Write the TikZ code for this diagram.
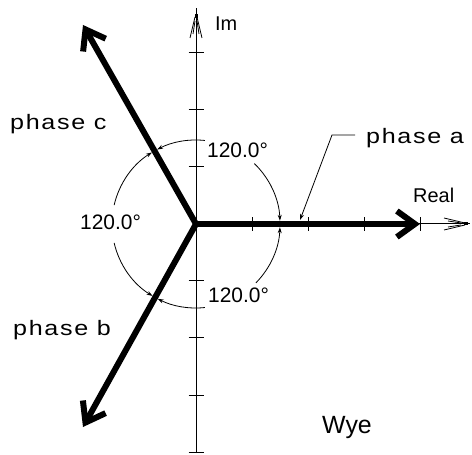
\documentclass[tikz,border=0pt]{standalone}
\usepackage{fontspec}
\setmainfont{Liberation Sans}
\newfontfamily\cadfont[FakeStretch=1.2,LetterSpace=8]{Liberation Sans}
\usetikzlibrary{arrows.meta}
\begin{document}
\begin{tikzpicture}[x=1bp,y=1bp,
  axisline/.style={line width=1bp},
  tickmark/.style={line width=1bp},
  headline/.style={line width=0.8bp},
  phasevec/.style={line width=6bp, -{Straight Barb[length=18bp,width=26bp]}},
  anglearc/.style={line width=0.8bp, -{Stealth[length=6bp,width=4bp]}},
  num/.style={font=\fontsize{21}{21}\selectfont, inner sep=0pt, anchor=base west},
  axlbl/.style={font=\fontsize{20}{20}\selectfont, inner sep=0pt, anchor=base west},
  phlbl/.style={font=\cadfont\fontsize{21}{21}\selectfont, inner sep=0pt, anchor=base west},
]
\useasboundingbox (-196,-231) rectangle (276,224);

\coordinate (O) at (0,0);
\coordinate (atip) at (224,0);
\coordinate (btip) at (-113,-203);
\coordinate (ctip) at (-113,199);
\coordinate (xend) at (274,0);
\coordinate (xtip) at (272,0);
\coordinate (yend) at (0,216);
\coordinate (ytip) at (0,210);
\coordinate (ybot) at (0,-229);

% axes
\draw[axisline] (ybot) -- (yend);
\draw[axisline] (O) -- (xend);
\foreach \y in {-228,-171,-114,-57,57,114,171}
  \draw[tickmark] (-7.5,\y) -- (7.5,\y);
\foreach \x in {56,112,168,224}
  \draw[tickmark] (\x,-7) -- (\x,7);

% open axis arrowheads
\draw[headline] ([shift={(-1,-3)}]ytip) -- ([shift={(-6,-24)}]ytip);
\draw[headline] ([shift={(1,-3)}]ytip) -- ([shift={(6,-24)}]ytip);
\draw[headline] ([shift={(-1,-7)}]ytip) -- ([shift={(-3,-20)}]ytip);
\draw[headline] ([shift={(1,-7)}]ytip) -- ([shift={(3,-20)}]ytip);
\fill ([shift={(-1.5,-4)}]ytip) rectangle ([shift={(1.5,0)}]ytip);
\draw[headline] ([shift={(-3,1)}]xtip) -- ([shift={(-24,6)}]xtip);
\draw[headline] ([shift={(-3,-1)}]xtip) -- ([shift={(-24,-6)}]xtip);
\draw[headline] ([shift={(-7,1)}]xtip) -- ([shift={(-20,3)}]xtip);
\draw[headline] ([shift={(-7,-1)}]xtip) -- ([shift={(-20,-3)}]xtip);
\fill ([shift={(-4,-1.5)}]xtip) rectangle ([shift={(0,1.5)}]xtip);

% phase vectors
\draw[phasevec] (O) -- (atip);
\draw[phasevec] (O) -- (btip);
\draw[phasevec] (O) -- (ctip);

% angle arcs
\draw[anglearc] (84:84) arc[start angle=84, end angle=117.6, radius=84];
\draw[anglearc] (46:84) arc[start angle=46, end angle=2.2, radius=84];
\draw[anglearc] (-44.5:84) arc[start angle=-44.5, end angle=-2.2, radius=84];
\draw[anglearc] (-84:84) arc[start angle=-84, end angle=-117.1, radius=84];
\draw[anglearc] (167:84) arc[start angle=167, end angle=121.6, radius=84];
\draw[anglearc] (193:84) arc[start angle=193, end angle=238.9, radius=84];

% labels
\node[num] (angtop) at (11,66) {120.0°};
\node[num] (angbot) at (12,-79) {120.0°};
\node[num] (angleft) at (-116,-6) {120.0°};
\node[axlbl] (real) at (217,21) {Real};
\node[axlbl] (im) at (19,193) {Im};
\node[phlbl] (pha) at (170,80) {phase a};
\node[phlbl] (phb) at (-183,-112) {phase b};
\node[phlbl] (phc) at (-186,94) {phase c};
\node[font=\fontsize{25}{25}\selectfont, inner sep=0pt, anchor=base west] (wye) at (126,-209) {Wye};

% leader for phase a
\coordinate (lead1) at (159,89);
\coordinate (lead2) at (136,89);
\coordinate (leadtip) at (104,4);
\draw[anglearc] (lead1) -- (lead2) -- (leadtip);
\end{tikzpicture}
\end{document}
